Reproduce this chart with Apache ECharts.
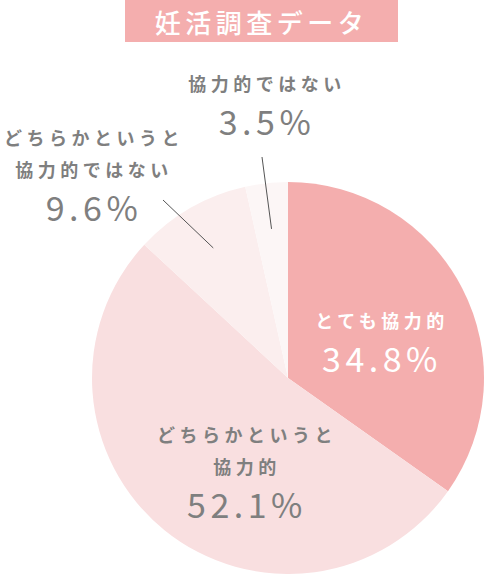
<!DOCTYPE html>
<html>
<head>
<meta charset="utf-8">
<script src="https://cdn.jsdelivr.net/npm/echarts@6/dist/echarts.min.js"></script>
<style>
  html, body { margin: 0; padding: 0; background: #fff; }
  #chart { width: 485px; height: 574px; }
  #chart text { letter-spacing: 4.5px; }
</style>
</head>
<body>
<div id="chart"></div>
<script>
// ---- data ----
const titleText = '妊活調査データ';
const categories = ['とても協力的', 'どちらかというと\n協力的', 'どちらかというと\n協力的ではない', '協力的ではない'];
const values = [34.8, 52.1, 9.6, 3.5];
const sliceColors = ['#f4aeae', '#f9dfe0', '#fbeeee', '#fcf6f6'];

// label placement (layout only)
const labelCenters = [[382, 341], [247, 471], [94, 174], [267, 104]];
const labelColors = ['#ffffff', '#7f7f7f', '#7f7f7f', '#7f7f7f'];
const lineEnds = { 2: [163, 200], 3: [262, 157] };

const chart = echarts.init(document.getElementById('chart'), null, { renderer: 'svg' });

function fmt(p) {
  return '{a|' + p.name.split('\n').join('}\n{a|') + '}\n{b|' + p.value.toFixed(1) + '%}';
}
function richFor(color) {
  return {
    a: { fontSize: 18, lineHeight: 32, color: color, fontWeight: 'bold', fontFamily: 'Noto Sans CJK JP' },
    b: { fontSize: 34, lineHeight: 42, color: color, fontFamily: 'Noto Sans CJK JP' }
  };
}

const mainData = values.map((v, i) => ({
  value: v,
  name: categories[i],
  itemStyle: { color: sliceColors[i] },
  label: { show: i < 2, rich: richFor(labelColors[i]) }
}));
const guideData = values.map((v, i) => ({
  value: v,
  name: categories[i],
  itemStyle: { color: 'rgba(0,0,0,0)' },
  label: { show: i >= 2, rich: richFor(labelColors[i]) },
  labelLine: { show: i >= 2 }
}));

chart.setOption({
  animation: false,
  backgroundColor: '#ffffff',
  title: {
    text: '{t|' + titleText + '}',
    left: 125,
    top: 0,
    padding: 0,
    textStyle: {
      rich: {
        t: {
          width: 273, height: 42, align: 'center', verticalAlign: 'middle',
          backgroundColor: '#f4aeae', color: '#ffffff',
          fontSize: 26, fontWeight: 500, fontFamily: 'Noto Sans CJK JP'
        }
      }
    }
  },
  series: [
    {
      type: 'pie',
      z: 2,
      center: [288, 378],
      radius: 196,
      startAngle: 90,
      clockwise: true,
      silent: true,
      data: mainData,
      label: { position: 'inside', formatter: fmt, align: 'center', overflow: 'none' },
      labelLine: { show: false },
      labelLayout: function (p) {
        const c = labelCenters[p.dataIndex];
        return { x: c[0], y: c[1], align: 'center', verticalAlign: 'middle' };
      }
    },
    {
      type: 'pie',
      z: 5,
      center: [288, 378],
      radius: 150,
      startAngle: 90,
      clockwise: true,
      silent: true,
      data: guideData,
      label: { position: 'outside', formatter: fmt, align: 'center', overflow: 'none', edgeDistance: 0, bleedMargin: 0 },
      labelLine: { length: 20, length2: 0, lineStyle: { color: '#555555', width: 1 } },
      labelLayout: function (p) {
        const c = labelCenters[p.dataIndex];
        const out = { x: c[0], y: c[1], align: 'center', verticalAlign: 'middle' };
        const e = lineEnds[p.dataIndex];
        if (e && p.labelLinePoints) {
          const s = p.labelLinePoints[0];
          out.labelLinePoints = [[s[0], s[1]], [e[0], e[1]], [e[0], e[1]]];
        }
        return out;
      }
    }
  ]
});
</script>
</body>
</html>
